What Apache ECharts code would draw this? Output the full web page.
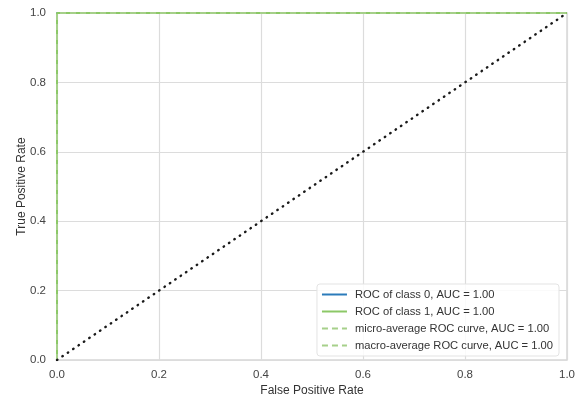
<!DOCTYPE html>
<html>
<head>
<meta charset="utf-8">
<script src="https://cdn.jsdelivr.net/npm/echarts@6/dist/echarts.min.js"></script>
<style>
  html, body { margin: 0; padding: 0; background: #fff; }
  #chart { width: 587px; height: 404px; }
</style>
</head>
<body>
<div id="chart"></div>
<script>
// ROC curve points (false positive rate, true positive rate)
const class0Fpr = [0.0, 0.0, 1.0];
const class0Tpr = [0.0, 1.0, 1.0];
const class1Fpr = [0.0, 0.0, 1.0];
const class1Tpr = [0.0, 1.0, 1.0];
const microFpr = [0.0, 0.0, 1.0];
const microTpr = [0.0, 1.0, 1.0];
const macroFpr = [0.0, 0.0, 1.0];
const macroTpr = [0.0, 1.0, 1.0];
const chanceLine = [0.0, 1.0];

const seriesNames = [
  'ROC of class 0, AUC = 1.00',
  'ROC of class 1, AUC = 1.00',
  'micro-average ROC curve, AUC = 1.00',
  'macro-average ROC curve, AUC = 1.00'
];

const pairs = (xs, ys) => xs.map((x, i) => [x, ys[i]]);
const font = 'Liberation Sans, Arial, sans-serif';

const chart = echarts.init(document.getElementById('chart'), null, { renderer: 'canvas' });
chart.setOption({
  animation: false,
  grid: { left: 57, right: 20, top: 13, bottom: 44, show: true, borderColor: '#d6d6d6', borderWidth: 1.5 },
  xAxis: {
    type: 'value', min: 0, max: 1, interval: 0.2,
    name: 'False Positive Rate', nameLocation: 'middle', nameGap: 25, nameMoveOverlap: false,
    nameTextStyle: { fontFamily: font, fontSize: 12, color: '#333' },
    axisLine: { show: false }, axisTick: { show: false },
    axisLabel: { fontFamily: font, fontSize: 11.5, color: '#444', margin: 9,
      formatter: v => v.toFixed(1) },
    splitLine: { lineStyle: { color: '#dcdcdc', width: 1.2 } }
  },
  yAxis: {
    type: 'value', min: 0, max: 1, interval: 0.2,
    name: 'True Positive Rate', nameLocation: 'middle', nameGap: 29, nameMoveOverlap: false,
    nameTextStyle: { fontFamily: font, fontSize: 12, color: '#333' },
    axisLine: { show: false }, axisTick: { show: false },
    axisLabel: { fontFamily: font, fontSize: 11.5, color: '#444', margin: 11,
      formatter: v => v.toFixed(1) },
    splitLine: { lineStyle: { color: '#dcdcdc', width: 1.2 } }
  },
  legend: {
    orient: 'vertical', right: 28, bottom: 48,
    backgroundColor: 'rgba(255,255,255,0.85)', borderColor: '#e3e3e3', borderWidth: 1, borderRadius: 3,
    padding: [5, 6, 5, 4], itemGap: 6, itemWidth: 25, itemHeight: 11,
    itemStyle: { opacity: 0 },
    textStyle: { fontFamily: font, fontSize: 11.2, color: '#333', padding: [0, 0, 0, 3] },
    data: seriesNames
  },
  series: [
    { name: seriesNames[0], type: 'line', showSymbol: false, symbol: 'none',
      data: pairs(class0Fpr, class0Tpr), color: '#2b7bba',
      lineStyle: { color: '#2b7bba', width: 2 } },
    { name: seriesNames[1], type: 'line', showSymbol: false, symbol: 'none',
      data: pairs(class1Fpr, class1Tpr), color: '#8cc867',
      lineStyle: { color: '#8cc867', width: 2 } },
    { name: seriesNames[2], type: 'line', showSymbol: false, symbol: 'none',
      data: pairs(microFpr, microTpr), color: '#a6d08a',
      lineStyle: { color: '#a6d08a', width: 2, type: [6, 4] } },
    { name: seriesNames[3], type: 'line', showSymbol: false, symbol: 'none',
      data: pairs(macroFpr, macroTpr), color: '#a6d08a',
      lineStyle: { color: '#a6d08a', width: 2, type: [6, 4] } },
    { name: 'chance', type: 'line', showSymbol: false, symbol: 'none', silent: true,
      data: pairs(chanceLine, chanceLine),
      lineStyle: { color: '#1a1a1a', width: 2.4, type: [0.5, 6], cap: 'round' } }
  ]
});
</script>
</body>
</html>
